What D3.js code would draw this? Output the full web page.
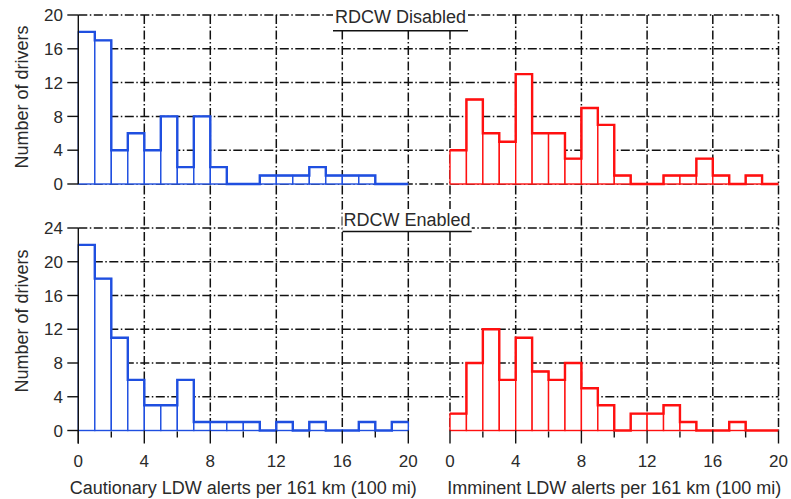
<!DOCTYPE html>
<html><head><meta charset="utf-8">
<script src="https://cdn.jsdelivr.net/npm/d3@7"></script>
<style>html,body{margin:0;padding:0;background:#fff;} svg{display:block;}</style>
</head><body><svg id="c" width="791" height="499"></svg>
<script>
// ---- data ----
const binStarts = [0,1,2,3,4,5,6,7,8,9,10,11,12,13,14,15,16,17,18,19];
const binWidth = 1;
const cautionaryDisabled = [18,17,4,6,4,8,2,8,2,0,0,1,1,1,2,1,1,1,0,0];
const imminentDisabled   = [4,10,6,5,13,6,6,3,9,7,1,0,0,1,1,3,1,0,1,0];
const cautionaryEnabled  = [22,18,11,6,3,3,6,1,1,1,1,0,1,0,1,0,0,1,0,1];
const imminentEnabled    = [2,8,12,6,11,7,6,8,5,3,0,2,2,3,1,0,0,1,0,0];
const xTicksMajor = [0,4,8,12,16,20];
const xTicksMinor = [2,6,10,14,18];
const yTicksTop = [0,4,8,12,16,20];
const yTicksBottom = [0,4,8,12,16,20,24];
const panelTitles = ["RDCW Disabled","RDCW Enabled"];
const xTitles = ["Cautionary LDW alerts per 161 km (100 mi)","Imminent LDW alerts per 161 km (100 mi)"];
const yTitle = "Number of drivers";

// ---- layout ----
const svg = d3.select("#c");
const FONT = "'Liberation Sans', Arial, sans-serif";
const TXT = "#2a2a2a";
const GRID = "#111";
const BLUE = "#1f4fe0";
const RED = "#ff1010";

const xL = d3.scaleLinear().domain([0,20]).range([78.3,408.3]);
const xR = d3.scaleLinear().domain([0,20]).range([450,778.5]);
const yT = d3.scaleLinear().domain([0,20]).range([184,15]);
const yB = d3.scaleLinear().domain([0,24]).range([430.5,228]);

const dash = "9,2.5,1.5,2.5";
const gGrid = svg.append("g").attr("stroke", GRID).attr("stroke-width",1.5).attr("stroke-dasharray",dash).attr("fill","none");

// vertical gridlines
xTicksMajor.filter(d=>d>0).forEach(d=>{
  gGrid.append("line").attr("x1",xL(d)).attr("x2",xL(d)).attr("y1",yT(20)).attr("y2",yB(0));
});
xTicksMajor.forEach(d=>{
  gGrid.append("line").attr("x1",xR(d)).attr("x2",xR(d)).attr("y1",yT(20)).attr("y2",yB(0));
});
// horizontal gridlines
yTicksTop.forEach(d=>{
  gGrid.append("line").attr("x1",xL(0)).attr("x2",xR(20)).attr("y1",yT(d)).attr("y2",yT(d));
});
yTicksBottom.filter(d=>d>0).forEach(d=>{
  gGrid.append("line").attr("x1",xL(0)).attr("x2",xR(20)).attr("y1",yB(d)).attr("y2",yB(d));
});

// panel titles (white boxes with underline)
function title(text, x0, x1, yTop, yLine, baseline){
  svg.append("rect").attr("x",x0).attr("y",yTop).attr("width",x1-x0).attr("height",yLine-yTop).attr("fill","#fff");
  svg.append("line").attr("x1",x0).attr("x2",x1).attr("y1",yLine).attr("y2",yLine).attr("stroke",GRID).attr("stroke-width",1.5);
  svg.append("text").attr("x",(x0+x1)/2).attr("y",baseline).attr("text-anchor","middle")
    .attr("font-family",FONT).attr("font-size",18).attr("fill",TXT).text(text);
}
title(panelTitles[0], 333, 468, 0, 30.7, 23);
title(panelTitles[1], 342.5, 471.7, 209, 231.5, 225.5);

// histograms
function hist(values, x, y, color){
  const g = svg.append("g");
  g.selectAll("rect").data(binStarts).join("rect")
    .attr("x", d=>x(d)).attr("width", d=>x(d+binWidth)-x(d))
    .attr("y", (d,i)=>y(values[i])).attr("height",(d,i)=>y(0)-y(values[i]))
    .attr("fill","#fff").attr("stroke",color).attr("stroke-width",1.4);
  const pts = binStarts.map((d,i)=>[d, values[i]]);
  pts.push([binStarts[binStarts.length-1]+binWidth, values[values.length-1]]);
  g.append("path").attr("d", d3.line().x(p=>x(p[0])).y(p=>y(p[1])).curve(d3.curveStepAfter)(pts))
    .attr("fill","none").attr("stroke",color).attr("stroke-width",2.4);
}
hist(cautionaryDisabled, xL, yT, BLUE);
hist(imminentDisabled, xR, yT, RED);
hist(cautionaryEnabled, xL, yB, BLUE);
hist(imminentEnabled, xR, yB, RED);

// left axes
const gAx = svg.append("g").attr("stroke",GRID).attr("stroke-width",1.4);
gAx.append("line").attr("x1",xL(0)).attr("x2",xL(0)).attr("y1",yT(20)).attr("y2",yT(0));
gAx.append("line").attr("x1",xL(0)).attr("x2",xL(0)).attr("y1",yB(24)).attr("y2",yB(0)+13);
yTicksTop.forEach(d=>gAx.append("line").attr("x1",xL(0)-11).attr("x2",xL(0)).attr("y1",yT(d)).attr("y2",yT(d)));
yTicksBottom.forEach(d=>gAx.append("line").attr("x1",xL(0)-11).attr("x2",xL(0)).attr("y1",yB(d)).attr("y2",yB(d)));
// bottom ticks
[xL,xR].forEach(x=>{
  xTicksMajor.forEach(d=>gAx.append("line").attr("x1",x(d)).attr("x2",x(d)).attr("y1",yB(0)).attr("y2",yB(0)+13));
  xTicksMinor.forEach(d=>gAx.append("line").attr("x1",x(d)).attr("x2",x(d)).attr("y1",yB(0)+1).attr("y2",yB(0)+7));
});

// tick labels
const gT = svg.append("g").attr("font-family",FONT).attr("font-size",17).attr("fill",TXT);
yTicksTop.forEach(d=>gT.append("text").attr("x",63).attr("y",yT(d)).attr("dy","0.36em").attr("text-anchor","end").text(d));
yTicksBottom.forEach(d=>gT.append("text").attr("x",63).attr("y",yB(d)).attr("dy","0.36em").attr("text-anchor","end").text(d));
[xL,xR].forEach(x=>{
  xTicksMajor.forEach(d=>gT.append("text").attr("x",x(d)).attr("y",467).attr("text-anchor","middle").text(d));
});

// axis titles
svg.append("text").attr("x",(xL(0)+xL(20))/2).attr("y",494).attr("text-anchor","middle")
  .attr("font-family",FONT).attr("font-size",18).attr("fill",TXT).text(xTitles[0]);
svg.append("text").attr("x",(xR(0)+xR(20))/2).attr("y",494).attr("text-anchor","middle")
  .attr("font-family",FONT).attr("font-size",18).attr("fill",TXT).text(xTitles[1]);
[[97],[321]].forEach(([cy])=>{
  svg.append("text").attr("transform",`translate(28,${cy}) rotate(-90)`).attr("text-anchor","middle")
    .attr("font-family",FONT).attr("font-size",18).attr("fill",TXT).text(yTitle);
});
</script></body></html>
